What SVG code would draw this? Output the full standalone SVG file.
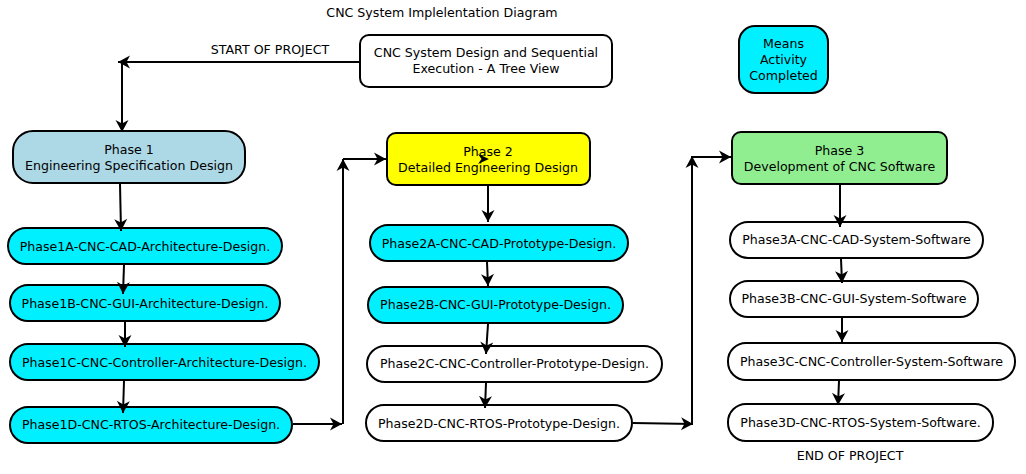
<svg xmlns="http://www.w3.org/2000/svg" width="1026" height="474" viewBox="0 0 1026 474">
<defs>
<style>
text{font-family:"DejaVu Sans","Bitstream Vera Sans",sans-serif;font-size:12.6px;fill:#000;text-anchor:middle}
.b{stroke:#000;stroke-width:2}
.cy{fill:#00f0ff}
.wh{fill:#fff}
.c{stroke:#000;stroke-width:2;fill:none;marker-end:url(#ah)}
</style>
<marker id="ah" viewBox="-13 -7 14 14" refX="0" refY="0" markerWidth="14" markerHeight="14" markerUnits="userSpaceOnUse" orient="auto">
<path d="M0,0 L-12,-6.5 L-8.5,0 L-12,6.5 Z" fill="#000"/>
</marker>
</defs>
<rect width="1026" height="474" fill="#fff"/>
<text x="442" y="17">CNC System Implelentation Diagram</text>
<text x="270" y="54">START OF PROJECT</text>
<text x="850" y="460">END OF PROJECT</text>

<g id="top">
<rect class="b wh" x="360" y="35" width="252" height="52" rx="9"/>
<text x="486" y="57">CNC System Design and Sequential</text>
<text x="486" y="73">Execution - A Tree View</text>
</g>
<g id="legend">
<rect class="b cy" x="739" y="26" width="89" height="67" rx="16"/>
<text x="783.5" y="48">Means</text>
<text x="783.5" y="64">Activity</text>
<text x="783.5" y="80">Completed</text>
</g>

<g id="phase1">
<rect class="b" fill="#add8e6" x="13" y="131" width="232" height="52" rx="20"/>
<text x="129" y="154">Phase 1</text>
<text x="129" y="170">Engineering Specification Design</text>
</g>
<g id="phase1a"><rect class="b cy" x="8" y="228" width="274" height="36" rx="18"/><text x="145" y="250.5">Phase1A-CNC-CAD-Architecture-Design.</text></g>
<g id="phase1b"><rect class="b cy" x="10" y="285" width="270" height="36" rx="18"/><text x="145" y="307.5">Phase1B-CNC-GUI-Architecture-Design.</text></g>
<g id="phase1c"><rect class="b cy" x="10" y="344" width="309" height="36" rx="18"/><text x="164.5" y="366.5">Phase1C-CNC-Controller-Architecture-Design.</text></g>
<g id="phase1d"><rect class="b cy" x="10" y="407" width="282" height="36" rx="18"/><text x="151" y="429">Phase1D-CNC-RTOS-Architecture-Design.</text></g>

<g id="phase2">
<rect class="b" fill="#ffff00" x="387" y="133" width="203" height="52" rx="9"/>
<text x="488" y="156">Phase 2</text>
<text x="488" y="172">Detailed Engineering Design</text>
</g>
<g id="phase2a"><rect class="b cy" x="370" y="225" width="258" height="36" rx="18"/><text x="499" y="247.5">Phase2A-CNC-CAD-Prototype-Design.</text></g>
<g id="phase2b"><rect class="b cy" x="368" y="287" width="255" height="36" rx="18"/><text x="495.5" y="309">Phase2B-CNC-GUI-Prototype-Design.</text></g>
<g id="phase2c"><rect class="b wh" x="367" y="346" width="295" height="36" rx="18"/><text x="514.5" y="368">Phase2C-CNC-Controller-Prototype-Design.</text></g>
<g id="phase2d"><rect class="b wh" x="366" y="405" width="266" height="36" rx="18"/><text x="499" y="427.5">Phase2D-CNC-RTOS-Prototype-Design.</text></g>

<g id="phase3">
<rect class="b" fill="#90ee90" x="732" y="132" width="215" height="52" rx="9"/>
<text x="839.5" y="155">Phase 3</text>
<text x="839.5" y="171">Development of CNC Software</text>
</g>
<g id="phase3a"><rect class="b wh" x="730" y="222" width="253" height="36" rx="18"/><text x="856.5" y="244">Phase3A-CNC-CAD-System-Software</text></g>
<g id="phase3b"><rect class="b wh" x="730" y="281" width="248" height="36" rx="18"/><text x="854" y="303">Phase3B-CNC-GUI-System-Software</text></g>
<g id="phase3c"><rect class="b wh" x="728" y="343" width="287" height="37" rx="18"/><text x="871.5" y="366">Phase3C-CNC-Controller-System-Software</text></g>
<g id="phase3d"><rect class="b wh" x="728" y="404" width="265" height="37" rx="18"/><text x="860.5" y="427">Phase3D-CNC-RTOS-System-Software.</text></g>

<g id="connectors">
<path class="c" d="M359,62 L118,62"/>
<path class="c" d="M122,62 L122,132"/>
<path class="c" d="M120,184 L121,231"/>
<path class="c" d="M124,265 L123,294"/>
<path class="c" d="M125,322 L125,347"/>
<path class="c" d="M124,381 L123,413"/>
<path class="c" d="M293,424 L342,424"/>
<path class="c" d="M343,424 L343,159"/>
<path class="c" d="M343,159 L386,159"/>
<path d="M489,159 L478,154 L481.5,159 L478,164 Z" fill="#000"/>
<path class="c" d="M488,186 L488,222"/>
<path class="c" d="M487,262 L488,286"/>
<path class="c" d="M488,324 L486,354"/>
<path class="c" d="M486,383 L485,408"/>
<path class="c" d="M633,423 L693,424"/>
<path class="c" d="M692,424 L692,156"/>
<path class="c" d="M692,157 L731,157"/>
<path class="c" d="M840,185 L840,227"/>
<path class="c" d="M841,259 L842,283"/>
<path class="c" d="M842,318 L842,342"/>
<path class="c" d="M839,381 L838,405"/>
</g>
</svg>
